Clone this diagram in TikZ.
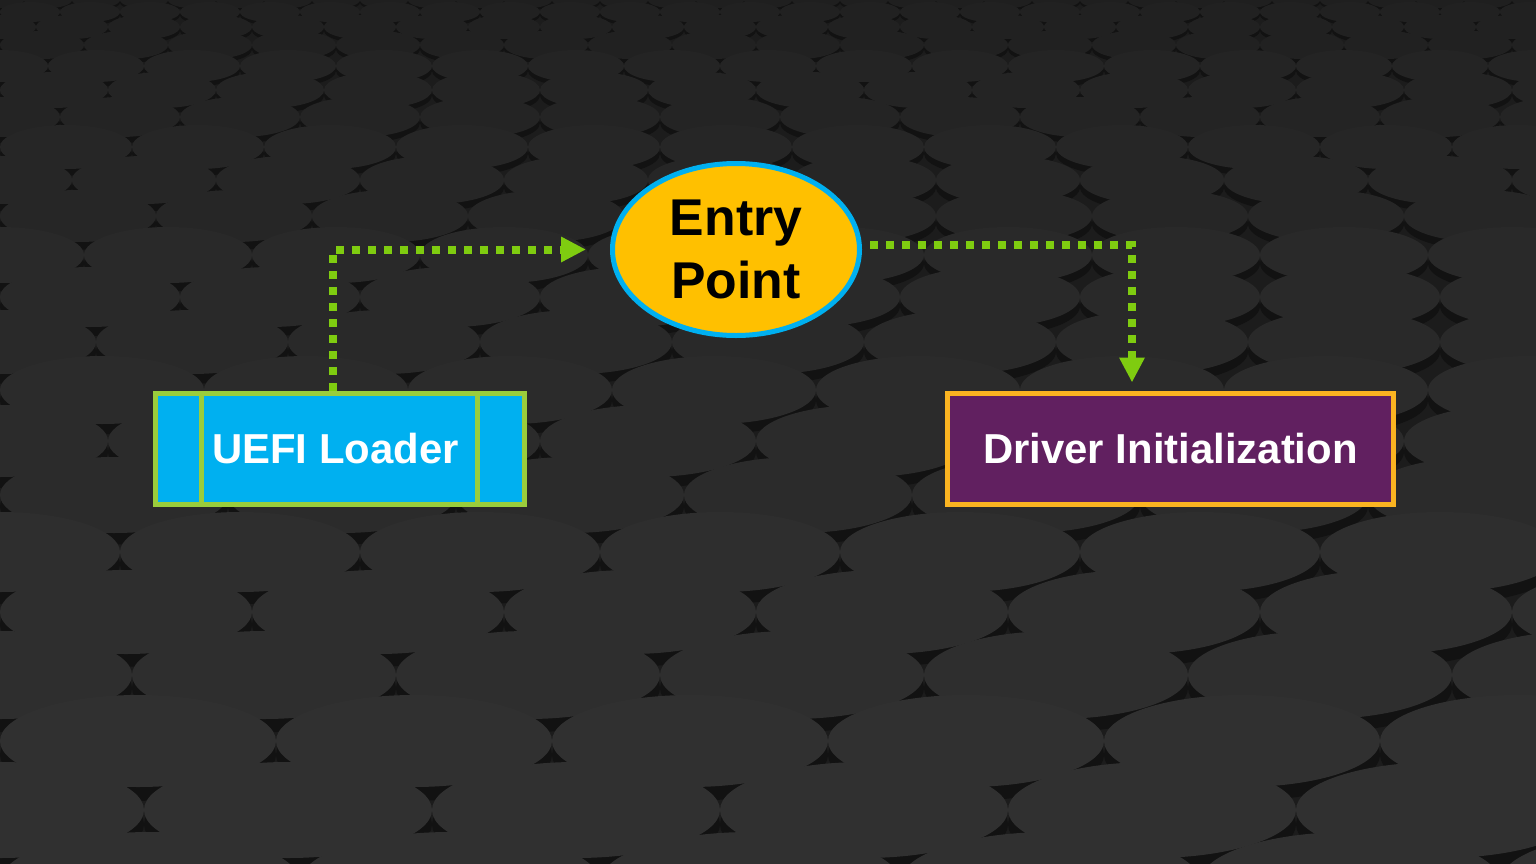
\documentclass[tikz,border=0pt]{standalone}
\usepackage{fontspec}
\setmainfont{Liberation Sans}
\usetikzlibrary{arrows.meta,shapes.geometric}
\definecolor{bgdark}{HTML}{1C1C1C}
\definecolor{uefiblue}{HTML}{00B0F0}
\definecolor{uefigreen}{HTML}{9ACD3C}
\definecolor{entryyellow}{HTML}{FFC000}
\definecolor{driverpurple}{HTML}{612060}
\definecolor{driverorange}{HTML}{FBB421}
\definecolor{flowgreen}{HTML}{7FCC10}
\tikzset{
  boxbase/.style={rectangle, line width=3.75pt, inner sep=0pt, text=white,
    font=\fontsize{31.4}{36}\selectfont\bfseries},
  uefibox/.style={boxbase, draw=uefigreen, fill=uefiblue,
    minimum width={369*0.75pt}, minimum height={111*0.75pt}},
  driverbox/.style={boxbase, draw=driverorange, fill=driverpurple,
    minimum width={446*0.75pt}, minimum height={111*0.75pt}},
  entryshape/.style={ellipse, draw=uefiblue, fill=entryyellow, line width=3.75pt,
    inner sep=0pt, minimum width={247*0.75pt}, minimum height={172*0.75pt},
    align=center, text=black, font=\fontsize{38.8}{47}\selectfont\bfseries},
  flow/.style={draw=flowgreen, line width=6pt, dash pattern=on 6pt off 6pt,
    -{Triangle[length=18.75pt, width=18pt, fill=flowgreen]}},
  divider/.style={draw=uefigreen, line width=3.75pt}
}
\begin{document}
\begin{tikzpicture}[x=0.75pt, y=-0.75pt]
\useasboundingbox (0,0) rectangle (1536,864);
% background texture
\fill[bgdark] (0,0) rectangle (1536,864);
\begin{scope}
\clip (0,0) rectangle (1536,864);
\foreach \r in {0,...,21}{
  \pgfmathsetmacro\ry{8+2*\r}
  \pgfmathsetmacro\rx{3*\ry}
  \pgfmathsetmacro\yy{12*\r+1.5*\r*(\r-1)}
  \pgfmathtruncatemacro\nc{1536/(6.0*\ry)+2}
  \pgfmathsetmacro\off{mod(\r,2)*3.0*\ry}
  \pgfmathtruncatemacro\shade{88-\r/3}
  \foreach \c in {-1,...,\nc}{
    \pgfmathsetmacro\xx{\c*6.0*\ry+\off}
    \fill[black!93] (\xx,\yy+0.3*\ry) ellipse [x radius=\rx, y radius=\ry];
    \fill[black!\shade] (\xx,\yy) ellipse [x radius=\rx, y radius=\ry];
  }
}
\end{scope}
% nodes
\node[uefibox] (uefi) at (339.5,448.5) {};
\draw[divider] (201,393) -- (201,504);
\draw[divider] (477,393) -- (477,504);
\node[text=white, font=\fontsize{31.4}{36}\selectfont\bfseries] (uefitext) at (335.5,448.5) {UEFI Loader};
\node[entryshape] (entry) at (736,249.5) {Entry\\Point};
\node[driverbox] (driver) at (1170.5,448.5) {Driver Initialization};
% connectors
\draw[flow, shorten >=18pt] ([shift={(-6.5,0)}]uefi.north) |- (entry.west);
\draw[flow, shorten >=6pt] ([shift={(8,-4.5)}]entry.east) -| ([shift={(-38.5,0)}]driver.north);
\end{tikzpicture}
\end{document}
